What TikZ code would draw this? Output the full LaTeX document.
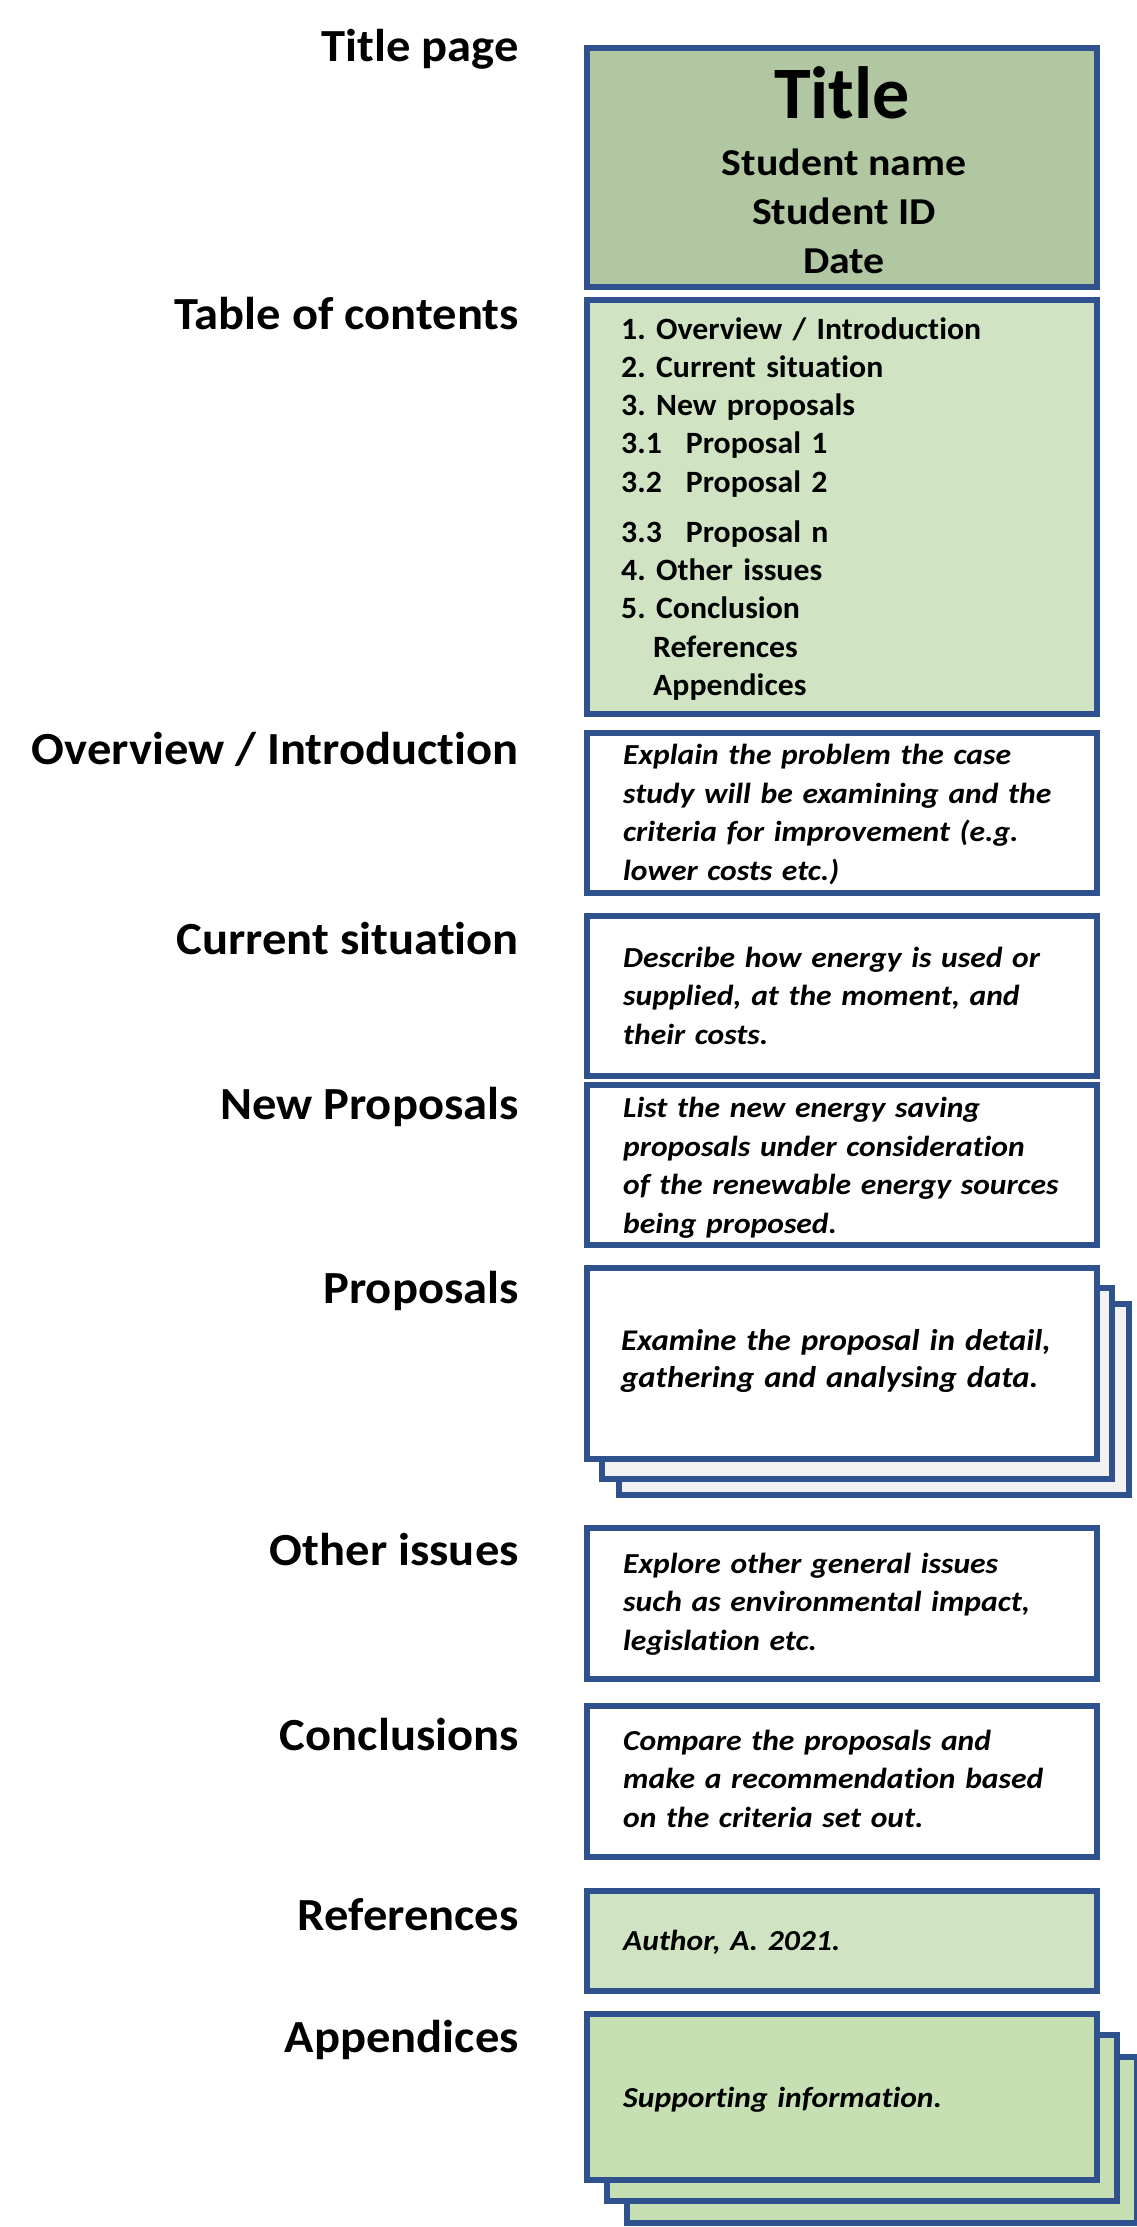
\documentclass[tikz,border=0pt]{standalone}
\usepackage{fontspec}
\setmainfont{Carlito}[Ligatures=NoCommon]
\newfontfamily\labfont{Carlito}[FakeStretch=1.055, Ligatures=NoCommon]
\newfontfamily\descfont{Carlito}[FakeStretch=1.09, Ligatures=NoCommon]
\newfontfamily\tocfont{Carlito}[FakeStretch=1.025, Ligatures=NoCommon]
\newfontfamily\stufont{Carlito}[FakeStretch=1.1, Ligatures=NoCommon]
\frenchspacing
\definecolor{bordc}{HTML}{2F528F}
\definecolor{titlefill}{HTML}{B0C7A2}
\definecolor{tocfill}{HTML}{D0E4C4}
\definecolor{appfill}{HTML}{C6E0B4}
\definecolor{backfill}{HTML}{F2F2F2}
\begin{document}
\begin{tikzpicture}[x=1pt,y=-1pt,
  box/.style={draw=bordc, line width=6pt, minimum width=510pt, inner sep=0pt, fill=white},
  lab/.style={anchor=base east, inner sep=0pt, font=\labfont\fontsize{46}{50}\selectfont\bfseries},
  desc/.style={anchor=base west, inner sep=0pt, align=left, text width=490pt, font=\descfont\fontsize{29}{38.7}\selectfont\bfseries\itshape},
  bigdesc/.style={desc, font=\descfont\fontsize{30}{37}\selectfont\bfseries\itshape},
  toc/.style={anchor=base west, inner sep=0pt, align=left, text width=470pt, font=\tocfont\fontsize{31}{38.3}\selectfont\bfseries},
  ttl/.style={anchor=base, inner sep=0pt, font=\stufont\fontsize{38}{40}\selectfont\bfseries}
]
\useasboundingbox (0,0) rectangle (1137,2227);
% boxes
\node[box, fill=titlefill, minimum height=239pt] (btitle) at (842,167.5) {};
\node[box, fill=tocfill, minimum height=414pt] (btoc) at (842,507) {};
\node[box, minimum height=160pt] (bover) at (842,813) {};
\node[box, minimum height=160pt] (bcur) at (842,996) {};
\node[box, minimum height=160pt] (bnew) at (842,1165) {};
\node[box, fill=backfill, minimum height=191pt] (bprop3) at (874,1399) {};
\node[box, fill=backfill, minimum height=191pt] (bprop2) at (857,1383.5) {};
\node[box, minimum height=191pt] (bprop1) at (842,1363.5) {};
\node[box, minimum height=151pt] (bother) at (842,1603.5) {};
\node[box, minimum height=151pt] (bconc) at (842,1781.5) {};
\node[box, fill=tocfill, minimum height=100pt] (bref) at (842,1941) {};
\node[box, fill=appfill, minimum height=166pt] (bapp3) at (882,2140) {};
\node[box, fill=appfill, minimum height=166pt] (bapp2) at (862,2118) {};
\node[box, fill=appfill, minimum height=166pt] (bapp1) at (842,2097) {};
% labels
\node[lab] (ltitle) at (519,61) {Title page};
\node[lab] (ltoc) at (519,329) {Table of contents};
\node[lab] (lover) at (519,764.5) {Overview / Introduction};
\node[lab] (lcur) at (519,954) {Current situation};
\node[lab] (lnew) at (519,1119) {New Proposals};
\node[lab] (lprop) at (519,1303) {Proposals};
\node[lab] (lother) at (519,1565) {Other issues};
\node[lab] (lconc) at (519,1750) {Conclusions};
\node[lab] (lref) at (519,1930) {References};
\node[lab] (lapp) at (519,2052) {Appendices};
% title page content
\node[ttl, font=\fontsize{74}{80}\selectfont\bfseries] (ttitle) at (842,118) {Title};
\node[ttl] (tname) at (844,175) {Student name};
\node[ttl] (tid) at (844,224) {Student ID};
\node[ttl] (tdate) at (844,273) {Date};
% table of contents
\node[toc] (ttoc) at (621,339) {1. Overview / Introduction\\
2. Current situation\\
3. New proposals\\
3.1\hspace{24pt}Proposal 1\\
3.2\hspace{24pt}Proposal 2\\[11.7pt]
3.3\hspace{24pt}Proposal n\\
4. Other issues\\
5. Conclusion\\
\hspace*{32pt}References\\
\hspace*{32pt}Appendices};
% descriptions
\node[desc] (dover) at (623,764.5) {Explain the problem the case\\
study will be examining and the\\
criteria for improvement (e.g.\\
lower costs etc.)};
\node[desc] (dcur) at (623,967) {Describe how energy is used or\\
supplied, at the moment, and\\
their costs.};
\node[desc] (dnew) at (623,1117.5) {List the new energy saving\\
proposals under consideration\\
of the renewable energy sources\\
being proposed.};
\node[bigdesc] (dprop) at (621,1350) {Examine the proposal in detail,\\
gathering and analysing data.};
\node[desc] (dother) at (623,1573) {Explore other general issues\\
such as environmental impact,\\
legislation etc.};
\node[desc] (dconc) at (623,1750) {Compare the proposals and\\
make a recommendation based\\
on the criteria set out.};
\node[desc] (dref) at (623,1950) {Author, A. 2021.};
\node[desc] (dapp) at (623,2107) {Supporting information.};
\end{tikzpicture}
\end{document}
